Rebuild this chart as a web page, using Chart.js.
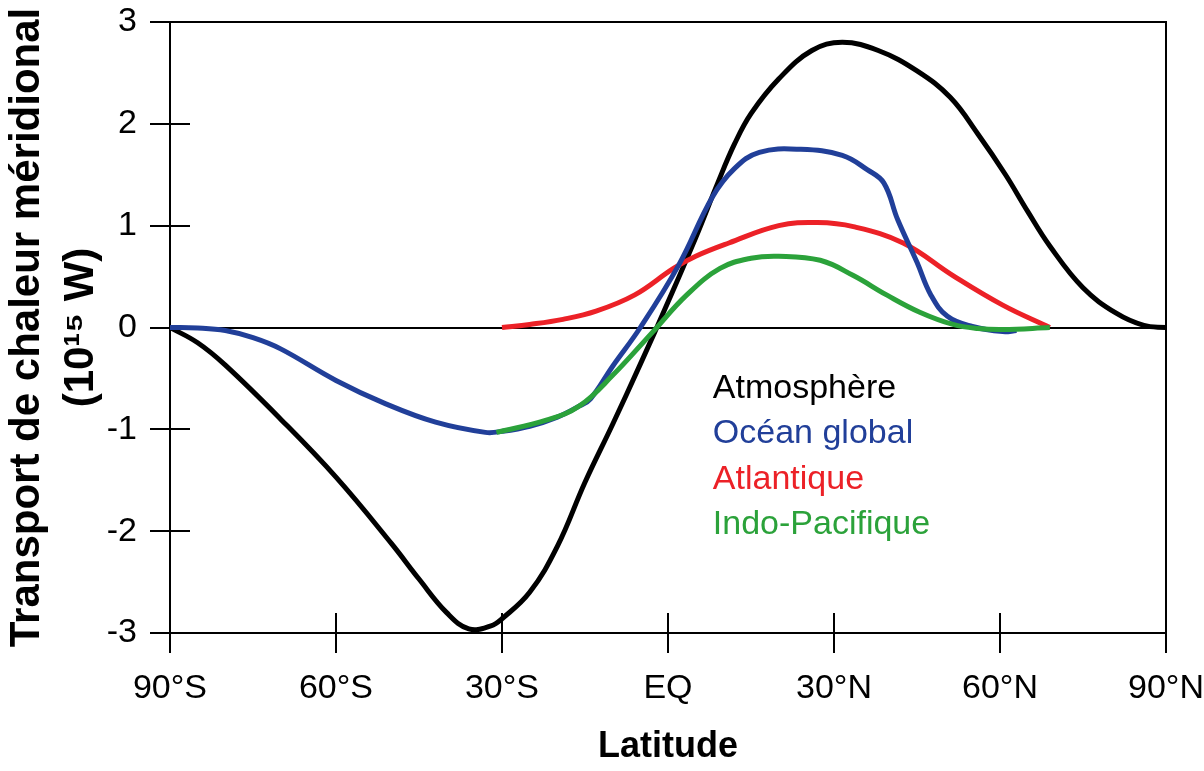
<!DOCTYPE html>
<html>
<head>
<meta charset="utf-8">
<script src="https://cdn.jsdelivr.net/npm/chart.js@4.4.1/dist/chart.umd.min.js"></script>
<style>
body { margin: 0; background: #fff; }
canvas { display: block; }
</style>
</head>
<body>
<canvas id="heatChart" width="1204" height="771"></canvas>
<script>
// series names and colours, in legend order
var seriesNames = ['Atmosphère', 'Océan global', 'Atlantique', 'Indo-Pacifique'];
var seriesColors = ['#000000', '#213f99', '#ec2127', '#2ba23a'];

// latitude (deg, south negative) and transport (10^15 W)
var atmLat = [-90, -85, -80, -70, -60, -50, -45, -40, -36, -32, -30, -25, -20, -15, -10, -5, 0, 5, 9, 12, 15, 20, 26, 31.5, 38, 45, 51, 56, 61, 65, 69, 75, 81, 86, 90];
var atmVal = [0, -0.15, -0.37, -0.9, -1.47, -2.12, -2.47, -2.8, -2.96, -2.93, -2.86, -2.6, -2.15, -1.52, -0.95, -0.36, 0.25, 0.88, 1.42, 1.8, 2.1, 2.44, 2.72, 2.8, 2.72, 2.52, 2.26, 1.9, 1.5, 1.14, 0.8, 0.39, 0.14, 0.02, 0];

var oceanLat = [-90, -85, -80, -75, -70, -60, -51, -42, -33, -30, -25, -20, -16, -14, -10, -5, 2, 8, 12, 16.5, 24, 31.5, 36, 39, 41.5, 45, 47.5, 50.5, 55, 60.5, 63];
var oceanVal = [0, -0.005, -0.03, -0.1, -0.21, -0.52, -0.75, -0.93, -1.03, -1.02, -0.97, -0.88, -0.77, -0.7, -0.38, 0, 0.62, 1.28, 1.56, 1.72, 1.75, 1.69, 1.55, 1.42, 1.06, 0.64, 0.32, 0.11, 0.01, -0.04, -0.03];

var atlLat = [-30, -25, -19, -13, -6, 1, 5, 11, 20, 27, 33.5, 42.5, 51.5, 60.5, 69];
var atlVal = [0, 0.03, 0.08, 0.16, 0.32, 0.58, 0.7, 0.83, 1.0, 1.03, 0.99, 0.83, 0.51, 0.22, 0];

var indoLat = [-31, -22, -16, -10, -2.7, 3.4, 9.4, 15, 20, 27.5, 33.5, 39.5, 45.5, 51.5, 56, 60.5, 69];
var indoVal = [-1.03, -0.91, -0.77, -0.47, -0.04, 0.32, 0.58, 0.68, 0.7, 0.66, 0.51, 0.32, 0.15, 0.03, -0.01, -0.02, 0];

var xTickLabels = ['90°S', '60°S', '30°S', 'EQ', '30°N', '60°N', '90°N'];
var yTickLabels = ['-3', '-2', '-1', '0', '1', '2', '3'];

function to_points(lat, val) {
	return lat.map(function (x, i) { return {x: x, y: val[i]}; });
}

function make_dataset(i, lat, val, order) {
	return {
		label: seriesNames[i],
		data: to_points(lat, val),
		borderColor: seriesColors[i],
		backgroundColor: seriesColors[i],
		borderWidth: 5,
		pointRadius: 0,
		fill: false,
		tension: 0.4,
		borderJoinStyle: 'round',
		order: order
	};
}

// top/right sides of the box and the inner half of every tick
var frame_plugin = {
	id: 'frame',
	beforeDatasetsDraw: function (chart) {
		var ctx = chart.ctx, a = chart.chartArea;
		var xs = chart.scales.x, ys = chart.scales.y;
		ctx.save();
		ctx.strokeStyle = '#000';
		ctx.lineWidth = 2;
		ctx.beginPath();
		ctx.moveTo(a.left, a.top);
		ctx.lineTo(a.right, a.top);
		ctx.lineTo(a.right, a.bottom);
		xs.ticks.forEach(function (t) {
			var px = Math.round(xs.getPixelForValue(t.value));
			ctx.moveTo(px, a.bottom);
			ctx.lineTo(px, a.bottom - 20);
		});
		ys.ticks.forEach(function (t) {
			var py = Math.round(ys.getPixelForValue(t.value));
			ctx.moveTo(a.left, py);
			ctx.lineTo(a.left + 20, py);
		});
		ctx.stroke();
		ctx.restore();
	}
};

// text-only legend inside the plot
var legend_plugin = {
	id: 'textLegend',
	afterDatasetsDraw: function (chart) {
		var ctx = chart.ctx, a = chart.chartArea;
		ctx.save();
		ctx.font = '34px "Liberation Sans", Arial, sans-serif';
		ctx.textAlign = 'left';
		ctx.textBaseline = 'middle';
		chart.data.datasets.forEach(function (ds, i) {
			ctx.fillStyle = ds.borderColor;
			ctx.fillText(ds.label, a.left + 0.545 * (a.right - a.left), a.top + 0.6 * (a.bottom - a.top) + i * 45.5);
		});
		ctx.restore();
	}
};

Chart.defaults.font.family = '"Liberation Sans", Arial, sans-serif';
Chart.defaults.color = '#000';

var ctx = document.getElementById('heatChart');

var myChart = new Chart(ctx, {
	type: 'line',
	data: {
		datasets: [
			make_dataset(0, atmLat, atmVal, 3),
			make_dataset(1, oceanLat, oceanVal, 1),
			make_dataset(2, atlLat, atlVal, 2),
			make_dataset(3, indoLat, indoVal, 0)
		]
	},
	options: {
		responsive: false,
		animation: false,
		layout: {
			padding: {left: 0, top: 22, right: 38, bottom: 0}
		},
		plugins: {
			legend: {display: false},
			tooltip: {enabled: false}
		},
		scales: {
			x: {
				type: 'linear',
				min: -90,
				max: 90,
				afterFit: function (scale) {
					scale.height = 138;
					scale.paddingLeft = 0;
					scale.paddingRight = 0;
				},
				ticks: {
					stepSize: 30,
					padding: 15,
					font: {size: 34},
					maxRotation: 0,
					callback: function (value, index) {
						return xTickLabels[index];
					}
				},
				grid: {
					drawOnChartArea: false,
					tickLength: 20,
					tickColor: '#000',
					lineWidth: 2
				},
				border: {display: true, color: '#000', width: 2},
				title: {
					display: true,
					text: 'Latitude',
					font: {size: 36, weight: 'bold'},
					padding: {top: 0, bottom: 2}
				}
			},
			y: {
				type: 'linear',
				min: -3,
				max: 3,
				afterFit: function (scale) {
					scale.width = 170;
					scale.paddingTop = 0;
					scale.paddingBottom = 0;
				},
				ticks: {
					stepSize: 1,
					padding: 13,
					font: {size: 34},
					callback: function (value, index) {
						return yTickLabels[index];
					}
				},
				grid: {
					color: function (c) {
						return c.tick && c.tick.value === 0 ? '#000' : 'rgba(0,0,0,0)';
					},
					tickColor: '#000',
					tickLength: 20,
					lineWidth: 2
				},
				border: {display: true, color: '#000', width: 2},
				title: {
					display: true,
					text: ['Transport de chaleur méridional', '(10¹⁵ W)'],
					font: {size: 42, weight: 'bold', lineHeight: 54 / 42},
					padding: {top: 0, bottom: 0}
				}
			}
		}
	},
	plugins: [frame_plugin, legend_plugin]
});
</script>
</body>
</html>
